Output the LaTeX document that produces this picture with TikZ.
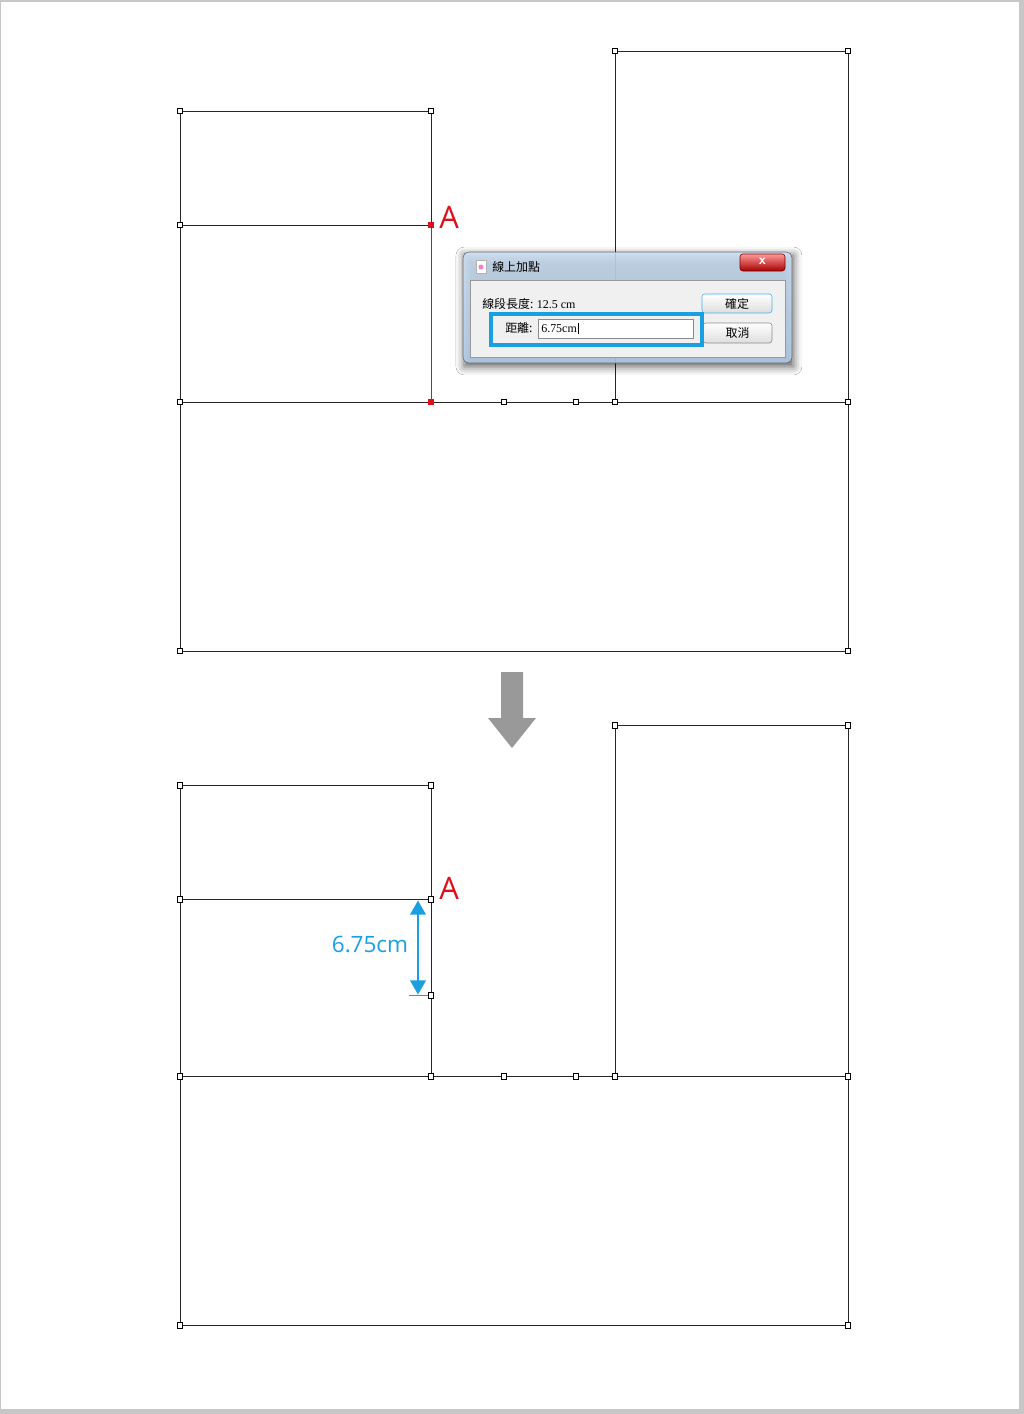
\documentclass[tikz,border=0pt]{standalone}
\usepackage{fontspec}
\setmainfont{Liberation Serif}
\newfontfamily\cjk{Noto Sans CJK TC}
\newfontfamily\uisans{Open Sans}
\usetikzlibrary{arrows.meta,shadows.blur}
\definecolor{dimblue}{HTML}{1A9FE3}
\definecolor{markred}{HTML}{E0101A}
\definecolor{glasstop}{HTML}{CFE3F7}
\definecolor{glassbot}{HTML}{B4D0EE}
\definecolor{panel}{HTML}{F0F0F0}
\tikzset{
  wall/.style={draw=black!85, line width=0.6pt},
  handle/.style={draw=black, fill=white, line width=0.45pt, rectangle, inner sep=0pt, minimum size=0.14cm},
  redhandle/.style={handle, draw=markred, fill=markred, minimum size=0.12cm},
  marklabel/.style={font=\uisans\fontsize{22}{26}\selectfont, text=markred, anchor=west, inner sep=0pt},
  uitext/.style={font=\cjk\fontsize{8.5}{10}\selectfont, inner sep=0pt, anchor=west},
  uibtn/.style={draw=black!45, rounded corners=2pt, top color=white, bottom color=black!13,
    line width=0.4pt, inner sep=0pt, font=\cjk\fontsize{8.5}{10}\selectfont},
}
\def\Plan{
    \coordinate (lt1) at (180,111); \coordinate (lt2) at (431,111);
    \coordinate (lm1) at (180,225); \coordinate (A) at (431,225);
    \coordinate (b1) at (180,402);  \coordinate (B) at (431,402);
    \coordinate (c) at (504,402);   \coordinate (d) at (576,402);
    \coordinate (r1) at (615,402);  \coordinate (r2) at (848,402);
    \coordinate (rt1) at (615,51);  \coordinate (rt2) at (848,51);
    \coordinate (bb1) at (180,651); \coordinate (bb2) at (848,651);
    \draw[wall] (b1) -- (lt1) -- (lt2) -- (B);
    \draw[wall] (lm1) -- (A);
    \draw[wall] (b1) -- (r2);
    \draw[wall] (r1) -- (rt1) -- (rt2) -- (r2) -- (bb2) -- (bb1) -- (b1);
}

\begin{document}
\begin{tikzpicture}[x=0.025cm,y=-0.025cm]
    \useasboundingbox (0,0) rectangle (1024,1414);
    \fill[black!22] (0,0) rectangle (1024,1414);
    \fill[white] (1.5,1.5) rectangle (1019,1409);

    % before
    \begin{scope}[name prefix=top-]
    \Plan
    \draw[markred, line width=0.6pt] (A) -- (B);
    \foreach \p in {lt1,lt2,lm1,b1,c,d,r1,r2,rt1,rt2,bb1,bb2}
        \node[handle] (h\p) at (\p) {};
    \node[redhandle] (hA) at (A) {};
    \node[redhandle] (hB) at (B) {};
    \node[marklabel] (labA) at (439,217) {A};
    \end{scope}

    % dialog
    \path[blur shadow={shadow xshift=1pt, shadow yshift=-2.5pt, shadow blur radius=6pt, shadow opacity=65}]
        (463,252) rectangle (792,363);
    \draw[black!60, rounded corners=4pt, top color=glasstop, bottom color=glassbot, fill opacity=0.85]
        (463,252) rectangle (792,363);
    \draw[black!40, fill=panel] (470,280) rectangle (785,357);
    \draw[black!30, fill=white] (476,260) rectangle (486,273);
    \fill[magenta!50] (481,267) circle (2.5);
    \node[uitext] (title) at (492,267) {線上加點};
    \draw[red!50!black, rounded corners=2pt, top color=red!40, bottom color=red!65!black] (740,254) rectangle (785,271);
    \node[text=white, font=\sffamily\bfseries, inner sep=0pt] (closex) at (762.5,261.5) {x};
    \node[uitext] (lenlbl) at (482,304) {線段長度: {\rmfamily 12.5 cm}};
    \node[uitext] (distlbl) at (505,328) {距離:};
    \draw[black!45, fill=white] (538,319) rectangle (693,338);
    \node[uitext, font=\rmfamily\fontsize{8.5}{10}\selectfont] (dist) at (541,328.5) {6.75cm};
    \draw[line width=0.4pt] ([xshift=0.6pt,yshift=1pt]dist.north east) -- ([xshift=0.6pt,yshift=-1pt]dist.south east);
    \node[uibtn, draw=dimblue!80, minimum width=1.75cm, minimum height=0.475cm] (okbtn) at (737,303.5) {確定};
    \node[uibtn, minimum width=1.725cm, minimum height=0.5cm] (cancelbtn) at (737.5,333) {取消};
    \draw[dimblue, line width=2.8pt] (491,314) rectangle (702,345);

    % step arrow
    \fill[black!40] (501,672) -- (523,672) -- (523,718) -- (536,718) -- (512,748) -- (488,718) -- (501,718) -- cycle;

    % after
    \begin{scope}[name prefix=bot-, shift={(0,674.5)}]
    \Plan
    \coordinate (E) at (431,321);
    \draw[wall] (A) -- (B);
    \foreach \p in {lt1,lt2,lm1,A,E,b1,B,c,d,r1,r2,rt1,rt2,bb1,bb2}
        \node[handle] (h\p) at (\p) {};
    \node[marklabel] (labA) at (439,214) {A};
    \coordinate (dA) at (418,226);
    \coordinate (dE) at (418,320);
    \coordinate (tk1) at (409,321);
    \coordinate (tk2) at (428,321);
    \draw[dimblue, line width=1.4pt, {Triangle[width=11pt,length=10pt]}-{Triangle[width=11pt,length=10pt]}] (dA) -- (dE);
    \draw[dimblue, line width=0.6pt] (tk1) -- (tk2);
    \node[font=\uisans\fontsize{16}{19}\selectfont, text=dimblue, inner sep=0pt] (dimlbl) at (370,270) {6.75cm};
    \end{scope}
\end{tikzpicture}
\end{document}
